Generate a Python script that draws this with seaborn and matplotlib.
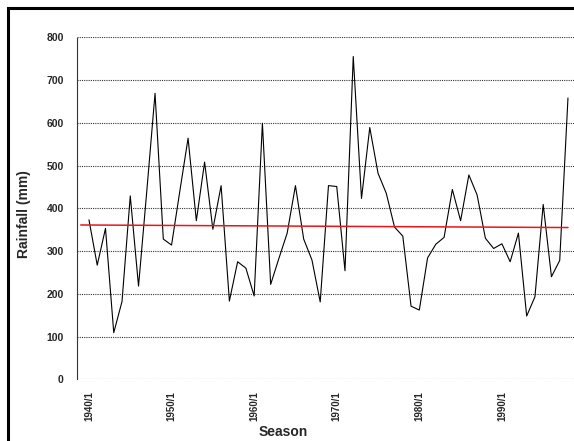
import matplotlib
matplotlib.use("Agg")
import matplotlib.pyplot as plt
import seaborn as sns
import pandas as pd
from matplotlib.patches import Rectangle

# Seasonal rainfall totals (mm), one value per season starting 1940/1
first_year = 1940
rainfall_mm = [
    373, 267, 353, 109, 182, 429, 218, 440, 669, 328,
    314, 440, 564, 371, 508, 351, 453, 183, 275, 260,
    195, 599, 222, 283, 342, 453, 328, 279, 181, 453,
    451, 254, 755, 423, 589, 482, 435, 356, 335, 171,
    162, 284, 316, 332, 444, 371, 478, 431, 330, 306,
    317, 275, 342, 148, 193, 409, 240, 278, 658,
]
years = [first_year + i for i in range(len(rainfall_mm))]

# Linear trend line end points (year, mm)
trend_years = [1939, 1998]
trend_mm = [361, 355]

tick_years = [1940, 1950, 1960, 1970, 1980, 1990]
tick_labels = ["1940/1", "1950/1", "1960/1", "1970/1", "1980/1", "1990/1"]
y_ticks = [0, 100, 200, 300, 400, 500, 600, 700, 800]

df = pd.DataFrame({"year": years, "rain": rainfall_mm})
trend_df = pd.DataFrame({"year": trend_years, "rain": trend_mm})

sns.set_style("white")
plt.rcParams["font.family"] = ["Liberation Sans", "DejaVu Sans"]

W, H = 574, 441
fig = plt.figure(figsize=(W / 100, H / 100), dpi=100)
ax = fig.add_axes([77 / W, (H - 379.3) / H, (W - 77) / W, (379.3 - 37.3) / H])

sns.lineplot(data=df, x="year", y="rain", ax=ax, color="black", linewidth=0.8)
sns.lineplot(data=trend_df, x="year", y="rain", ax=ax, color="#e8161b", linewidth=1.1)

ax.set_xlim(1938.55, 1998.73)
ax.set_ylim(0, 800)
ax.set_yticks(y_ticks)
ax.set_yticklabels([str(v) for v in y_ticks], fontsize=7.5, fontweight="bold")
ax.set_xticks(tick_years)
ax.set_xticklabels(tick_labels, rotation=90, fontsize=7, fontweight="bold")
ax.tick_params(axis="both", length=0)
ax.tick_params(axis="y", pad=9.5)
ax.tick_params(axis="x", pad=8.5)
ax.set_xlabel("")
ax.set_ylabel("")

ax.yaxis.grid(True, color="#333333", linestyle=(0, (1, 1)), linewidth=0.8)
ax.xaxis.grid(False)
for side in ["top", "right", "bottom"]:
    ax.spines[side].set_visible(False)
ax.spines["left"].set_linestyle((0, (1, 1)))
ax.spines["left"].set_color("#333333")
ax.spines["left"].set_linewidth(0.8)
ax.set_axisbelow(True)

fig.text(24 / W, 1 - 214 / H, "Rainfall (mm)", rotation=90, ha="center", va="center",
         fontsize=10, fontweight="bold")
fig.text(283 / W, 1 - 432 / H, "Season", ha="center", va="center",
         fontsize=10, fontweight="bold")

# Outer chart frame
fig.patches.append(Rectangle((8 / W, -0.1), 1.2, 1 - 8 / H + 0.1, transform=fig.transFigure,
                             fill=False, edgecolor="black", linewidth=2.2))

fig.savefig("out.png", dpi=100)
